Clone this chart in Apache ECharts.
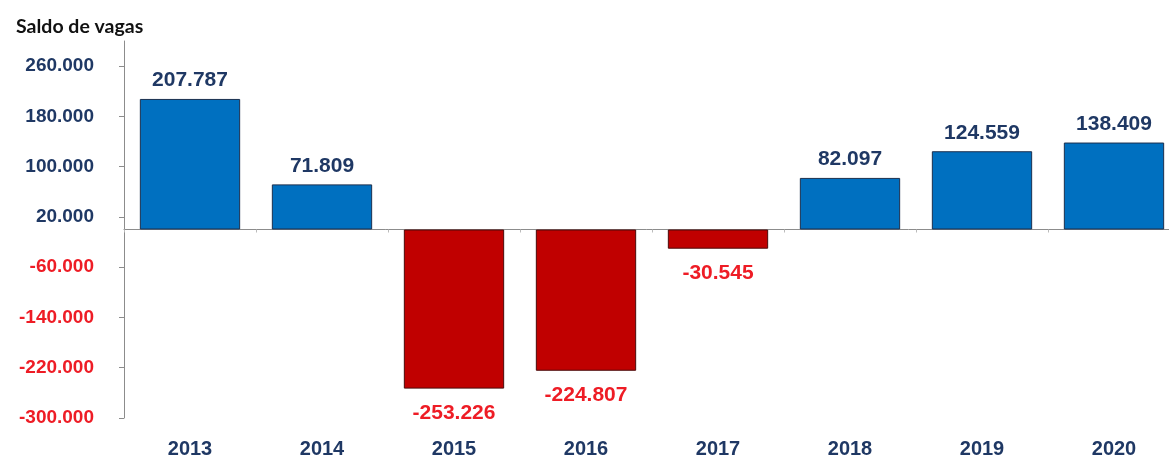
<!DOCTYPE html>
<html>
<head>
<meta charset="utf-8">
<script src="https://cdn.jsdelivr.net/npm/echarts@6/dist/echarts.min.js"></script>
<style>
  html, body { margin: 0; padding: 0; background: #ffffff; overflow: hidden; }
  #chart { width: 1169px; height: 457px; }
</style>
</head>
<body>
<div id="chart"></div>
<script>
// Saldo anual de vagas de emprego
const years = ['2013', '2014', '2015', '2016', '2017', '2018', '2019', '2020'];
const saldo = [207787, 71809, -253226, -224807, -30545, 82097, 124559, 138409];
const yTicks = [-300000, -220000, -140000, -60000, 20000, 100000, 180000, 260000];

const POS_BAR = '#0070C0';
const NEG_BAR = '#C00000';
const POS_TEXT = '#1F3864';
const NEG_TEXT = '#EE1C25';
const FONT = '"Liberation Sans", Arial, sans-serif';

// 207787 -> "207.787"
function fmt(v) {
  const s = String(Math.abs(v)).replace(/\B(?=(\d{3})+(?!\d))/g, '.');
  return (v < 0 ? '-' : '') + s;
}

const barData = saldo.map(v => ({
  value: v,
  itemStyle: {
    color: v >= 0 ? POS_BAR : NEG_BAR,
    borderColor: v >= 0 ? '#1B2F4E' : '#4A0A0A',
    borderWidth: 1
  },
  label: {
    position: v >= 0 ? 'top' : 'bottom',
    distance: v >= 0 ? 8 : 14,
    color: v >= 0 ? POS_TEXT : NEG_TEXT
  }
}));

const chart = echarts.init(document.getElementById('chart'), null, { renderer: 'canvas' });

chart.setOption({
  animation: false,
  backgroundColor: '#ffffff',
  title: {
    text: 'Saldo de vagas',
    left: 11,
    top: 12,
    textStyle: { fontFamily: 'Lato, "Open Sans", sans-serif', fontSize: 19.5, fontWeight: 'bold', color: '#111111' }
  },
  // the last category runs slightly past the right edge of the canvas
  grid: { left: 124, right: -11, top: 41, bottom: 39, containLabel: false, outerBoundsMode: 'none' },
  xAxis: [
    {
      type: 'category',
      data: years,
      position: 'bottom',
      axisLine: { onZero: true, lineStyle: { color: '#8C8C8C', width: 1 } },
      axisTick: { show: true, inside: false, length: 3, lineStyle: { color: '#BBBBBB' } },
      axisLabel: { show: false },
      splitLine: { show: false }
    },
    {
      type: 'category',
      data: years,
      position: 'bottom',
      axisLine: { show: false, onZero: false },
      axisTick: { show: false },
      axisLabel: {
        margin: 21,
        fontFamily: FONT,
        fontSize: 20,
        fontWeight: 'bold',
        color: POS_TEXT
      },
      splitLine: { show: false }
    }
  ],
  yAxis: {
    type: 'value',
    min: -300000,
    max: 300000,
    splitLine: { show: false },
    axisLine: { show: true, lineStyle: { color: '#8C8C8C', width: 1 } },
    axisTick: { show: true, length: 5, customValues: yTicks, lineStyle: { color: '#8C8C8C' } },
    axisLabel: {
      customValues: yTicks,
      margin: 30,
      fontFamily: FONT,
      fontSize: 19,
      fontWeight: 'bold',
      formatter: v => fmt(v),
      color: v => (v < 0 ? NEG_TEXT : POS_TEXT)
    }
  },
  series: [{
    type: 'bar',
    xAxisIndex: 0,
    data: barData,
    barWidth: '76%',
    label: {
      show: true,
      fontFamily: FONT,
      fontSize: 21,
      fontWeight: 'bold',
      formatter: p => fmt(p.value)
    }
  }]
});
</script>
</body>
</html>
